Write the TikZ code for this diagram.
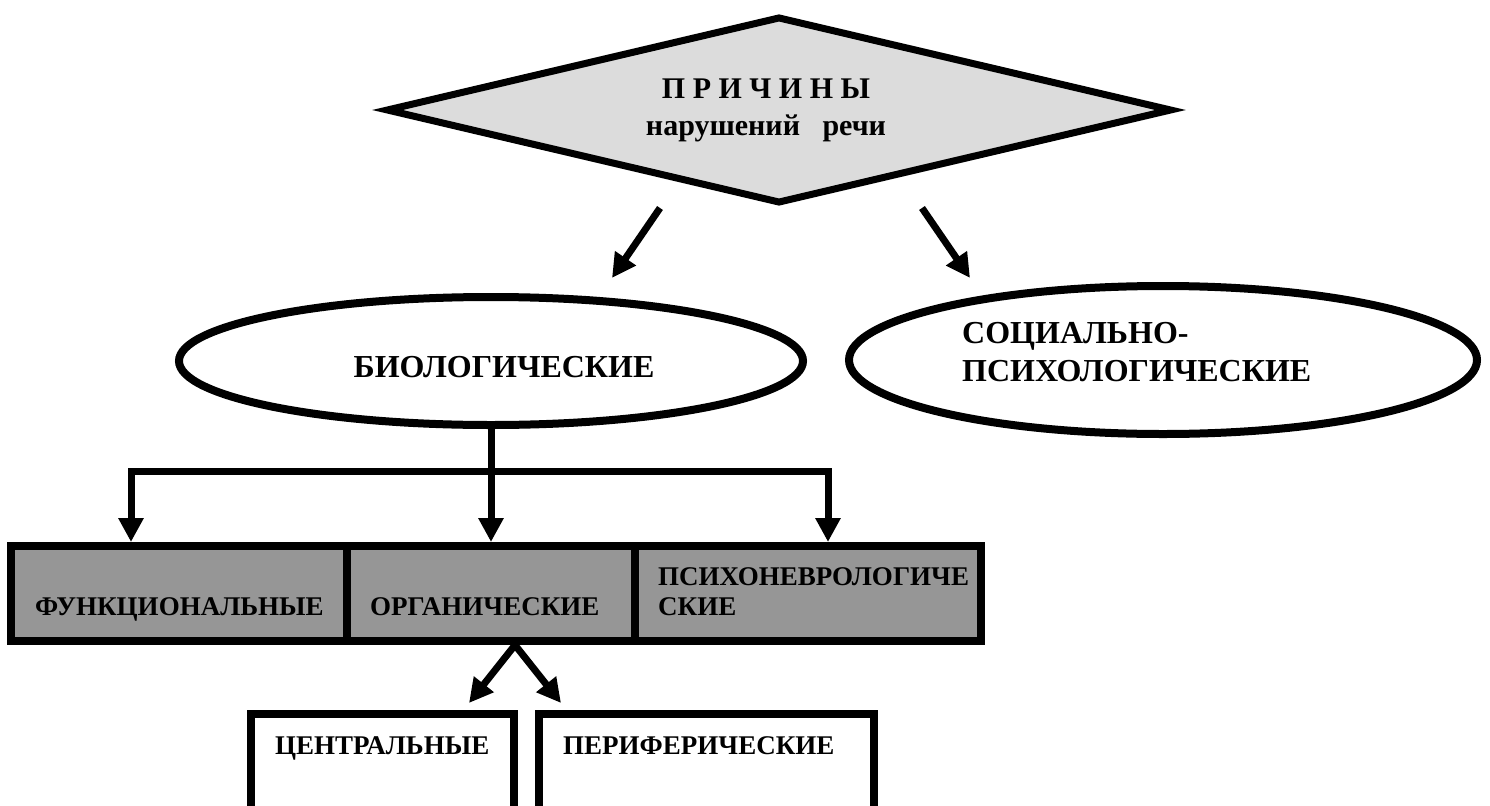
\documentclass[tikz,border=0pt]{standalone}
\usepackage{fontspec}
\setmainfont{Liberation Serif}
\usetikzlibrary{shapes.geometric,arrows.meta}

\definecolor{diafill}{HTML}{DCDCDC}
\definecolor{rowfill}{HTML}{969696}

\begin{document}
\begin{tikzpicture}[x=1bp,y=-1bp,
  arr/.style={line width=7bp, -{Triangle[length=24bp,width=24bp]}},
  frame/.style={draw, line width=8bp, inner sep=0pt},
  oval/.style={ellipse, draw, line width=8bp, fill=white, inner sep=0pt},
  txt/.style={inner sep=0pt, font=\bfseries\fontsize{27bp}{30bp}\selectfont},
  bigtxt/.style={inner sep=0pt, font=\bfseries\fontsize{30bp}{34bp}\selectfont},
  ovaltxt/.style={inner sep=0pt, font=\bfseries\fontsize{32bp}{36bp}\selectfont}
]
\useasboundingbox (0,0) rectangle (1490,805);
\clip (0,0) rectangle (1490,805);

% top diamond
\node[diamond, draw, line width=7bp, fill=diafill, aspect=4, inner sep=0pt,
      minimum width=786bp, minimum height=187bp] (causes) at (779,110) {};
\node[bigtxt, anchor=base] (causesA) at (766,98) {П Р И Ч И Н Ы};
\node[bigtxt, anchor=base] (causesB) at (766,135) {нарушений\ \ \ речи};

% two groups
\node[oval, minimum width=624bp, minimum height=128bp] (bio) at (491,361) {};
\node[ovaltxt, anchor=base] (bioText) at (504,377) {БИОЛОГИЧЕСКИЕ};

\node[oval, minimum width=628bp, minimum height=148bp] (soc) at (1163,360) {};
\node[ovaltxt, anchor=base west] (socA) at (962,343) {СОЦИАЛЬНО-};
\node[ovaltxt, anchor=base west] (socB) at (962,381) {ПСИХОЛОГИЧЕСКИЕ};

% row of biological kinds
\node[frame, fill=rowfill, minimum width=336bp, minimum height=95bp] (funk) at (179,593.5) {};
\node[frame, fill=rowfill, minimum width=288bp, minimum height=95bp] (org) at (491,593.5) {};
\node[frame, fill=rowfill, minimum width=346bp, minimum height=95bp] (psy) at (808,593.5) {};
\node[txt, anchor=base west] (funkText) at (35,615) {ФУНКЦИОНАЛЬНЫЕ};
\node[txt, anchor=base west] (orgText) at (370,615) {ОРГАНИЧЕСКИЕ};
\node[txt, anchor=base west] (psyA) at (658,585) {ПСИХОНЕВРОЛОГИЧЕ};
\node[txt, anchor=base west] (psyB) at (658,615) {СКИЕ};

% organic subkinds (boxes run past the lower edge)
\node[frame, minimum width=263bp, minimum height=200bp] (cent) at (382.5,814) {};
\node[frame, minimum width=335bp, minimum height=200bp] (peri) at (706.5,814) {};
\node[txt, anchor=base west] (centText) at (275,754) {ЦЕНТРАЛЬНЫЕ};
\node[txt, anchor=base west] (periText) at (563,754) {ПЕРИФЕРИЧЕСКИЕ};

% connectors
\coordinate (dL) at (660,208);
\coordinate (dLtip) at (612,278);
\coordinate (dR) at (922,208);
\coordinate (dRtip) at (970,278);
\draw[arr] (dL) -- (dLtip);
\draw[arr] (dR) -- (dRtip);

\coordinate (fork) at (491,471);
\coordinate (forkL) at (131,471);
\coordinate (forkR) at (828,471);
\draw[arr] (bio.south) -- (org.north);
\draw[arr] (fork) -| (forkL |- funk.north);
\draw[arr] (fork) -| (forkR |- psy.north);

\coordinate (split) at (515,645);
\coordinate (cTip) at (469,703);
\coordinate (pTip) at (561,703);
\draw[arr] (split) -- (cTip);
\draw[arr] (split) -- (pTip);
\end{tikzpicture}
\end{document}
